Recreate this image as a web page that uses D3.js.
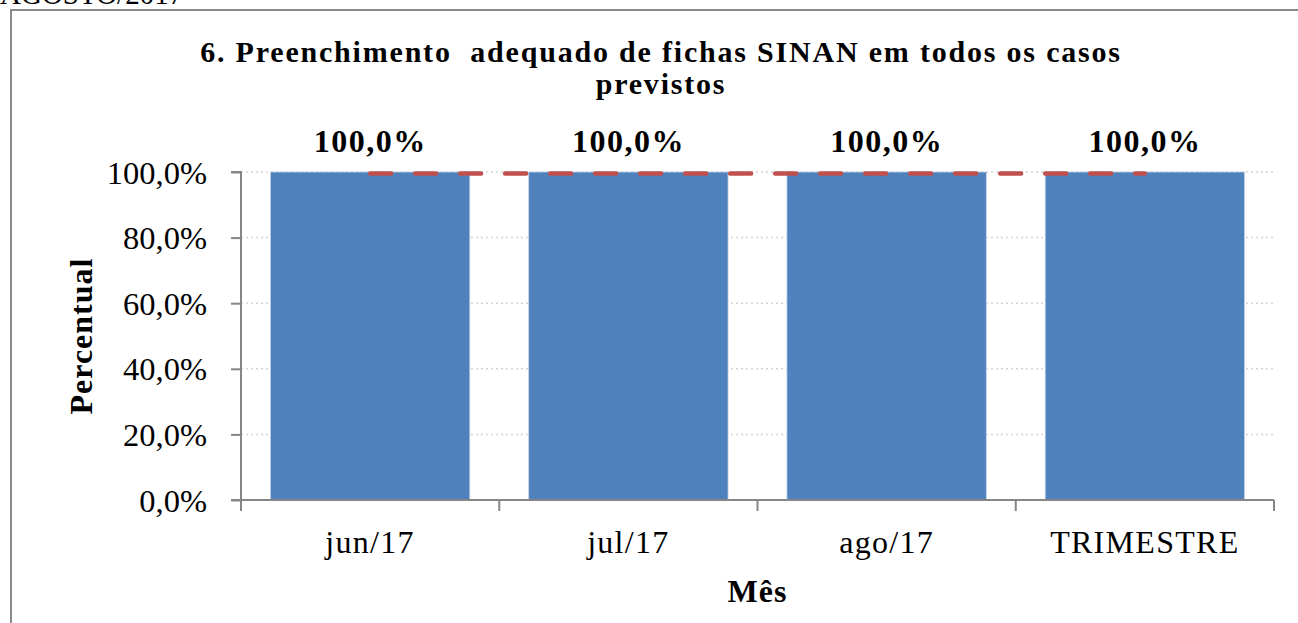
<!DOCTYPE html>
<html><head><meta charset="utf-8">
<script src="https://cdn.jsdelivr.net/npm/d3@7"></script>
<style>body{margin:0;background:#fff}svg{display:block}</style>
</head><body>
<svg id="c" width="1298" height="623"></svg>
<script>
const categories = ["jun/17", "jul/17", "ago/17", "TRIMESTRE"];
const valores = [1.0, 1.0, 1.0, 1.0];
const meta = [1.0, 1.0, 1.0, 1.0];
const yTicks = [0, 0.2, 0.4, 0.6, 0.8, 1.0];
const dataLabels = ["100,0%", "100,0%", "100,0%", "100,0%"];
const titleLines = ["6. Preenchimento  adequado de fichas SINAN em todos os casos", "previstos"];

const svg = d3.select("#c");
const serif = "'Liberation Serif','Times New Roman',serif";
const fmt = d => d3.format(".1f")(d * 100).replace(".", ",") + "%";

const L = 241, R = 1274, T = 172, B = 500;
const x = d3.scaleBand().domain(categories).range([L, R]).padding(0);
const y = d3.scaleLinear().domain([0, 1]).range([B, T]);
const barW = x.bandwidth() * 0.772;

// page frame
svg.append("path").attr("d", "M11,623 V10 H1298").attr("fill", "none")
  .attr("stroke", "#8a8a8a").attr("stroke-width", 2);

// cut-off heading text at top
svg.append("text").attr("x", 0).attr("y", 4).attr("font-family", serif)
  .attr("font-size", 29).attr("fill", "#000").text("AGOSTO/2017");

// gridlines
svg.append("g").selectAll("line").data(yTicks.filter(d => d > 0)).join("line")
  .attr("x1", L).attr("x2", R).attr("y1", d => y(d)).attr("y2", d => y(d))
  .attr("stroke", "#d4d4d4").attr("stroke-width", 1.5).attr("stroke-dasharray", "2,3");

// bars
svg.append("g").selectAll("rect").data(valores).join("rect")
  .attr("x", (d, i) => x(categories[i]) + (x.bandwidth() - barW) / 2)
  .attr("width", barW)
  .attr("y", d => y(d)).attr("height", d => y(0) - y(d))
  .attr("fill", "#4f81bd").attr("stroke", "#c5d3e8").attr("stroke-width", 0.8);

// y axis
const yAxis = d3.axisLeft(y).tickValues(yTicks).tickFormat(fmt).tickSize(10).tickPadding(24);
const ga = svg.append("g").attr("transform", `translate(${L},0)`).call(yAxis);
ga.select(".domain").attr("stroke", "#868686").attr("stroke-width", 2).attr("d", `M-10,${T}H0V${B}`);
ga.selectAll(".tick line").attr("stroke", "#868686").attr("stroke-width", 2);
ga.selectAll(".tick text").attr("font-family", serif).attr("font-size", 32.5).attr("fill", "#000")
  .attr("dy", "0.34em");

// x axis
const gx = svg.append("g").attr("transform", `translate(0,${B})`);
gx.append("line").attr("x1", L - 10).attr("x2", R).attr("stroke", "#868686").attr("stroke-width", 2);
const bounds = categories.map(c => x(c)).concat([x.range()[1]]);
gx.selectAll("line.t").data(bounds).join("line").attr("class", "t")
  .attr("x1", d => d).attr("x2", d => d).attr("y1", 0).attr("y2", 11)
  .attr("stroke", "#868686").attr("stroke-width", 2);
gx.selectAll("text").data(categories).join("text")
  .attr("x", d => x(d) + x.bandwidth() / 2).attr("y", 53)
  .attr("text-anchor", "middle").attr("font-family", serif).attr("font-size", 32)
  .attr("letter-spacing", 1.3).attr("fill", "#000").text(d => d);

// meta line (dashed red)
const line = d3.line().x((d, i) => x(categories[i]) + x.bandwidth() / 2).y(d => y(d) + 1.5);
svg.append("path").datum(meta).attr("d", line).attr("fill", "none")
  .attr("stroke", "#c0504d").attr("stroke-width", 4.5).attr("stroke-linecap", "round")
  .attr("stroke-dasharray", "21,24");

// data labels
svg.append("g").selectAll("text").data(valores).join("text")
  .attr("x", (d, i) => x(categories[i]) + x.bandwidth() / 2).attr("y", d => y(d) - 20)
  .attr("text-anchor", "middle").attr("font-family", serif).attr("font-weight", "bold")
  .attr("font-size", 32).attr("letter-spacing", 1.5).attr("fill", "#000").text((d, i) => dataLabels[i]);

// title
svg.append("g").selectAll("text").data(titleLines).join("text")
  .attr("x", 661).attr("y", (d, i) => 62 + i * 32).attr("text-anchor", "middle")
  .attr("font-family", serif).attr("font-weight", "bold").attr("font-size", 30)
  .attr("letter-spacing", 1.8)
  .attr("fill", "#000").attr("xml:space", "preserve").style("white-space", "pre").text(d => d);

// axis titles
svg.append("text").attr("x", (L + R) / 2).attr("y", 602).attr("text-anchor", "middle")
  .attr("font-family", serif).attr("font-weight", "bold").attr("font-size", 32)
  .attr("letter-spacing", 1).text("Mês");
svg.append("text").attr("transform", `translate(92,${(T + B) / 2}) rotate(-90)`)
  .attr("text-anchor", "middle").attr("font-family", serif).attr("font-weight", "bold")
  .attr("font-size", 32).attr("letter-spacing", 1).text("Percentual");
</script>
</body></html>
